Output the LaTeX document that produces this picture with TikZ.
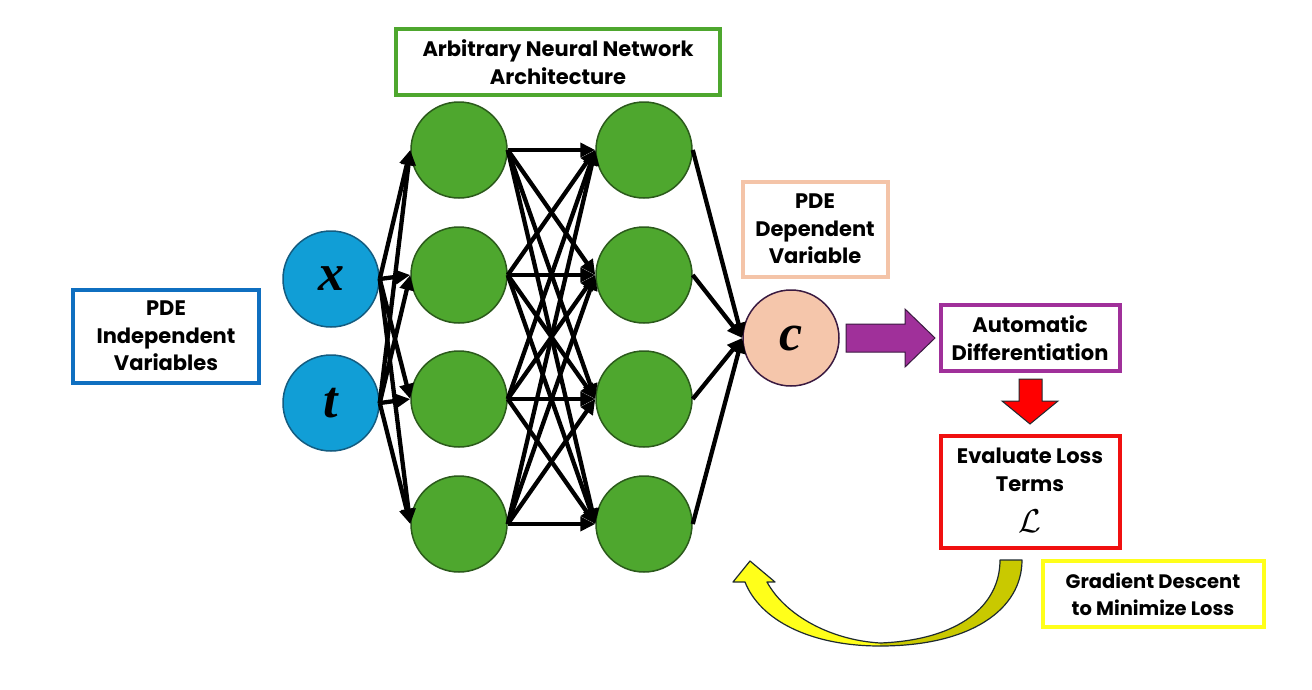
\documentclass[tikz,border=0pt]{standalone}
\usepackage{fontspec}
\setmainfont{Poppins}
\newfontfamily\varfont{Liberation Serif}
\usetikzlibrary{arrows.meta}
\definecolor{inblue}{HTML}{119ED6}
\definecolor{inblueD}{HTML}{145C80}
\definecolor{nngreen}{HTML}{4EA72E}
\definecolor{nngreenD}{HTML}{2B5A1B}
\definecolor{peach}{HTML}{F5C6AB}
\definecolor{peachD}{HTML}{3A1A40}
\definecolor{boxblue}{HTML}{0F6FC0}
\definecolor{boxpeach}{HTML}{F4C4A8}
\definecolor{boxpurple}{HTML}{A0309A}
\definecolor{boxred}{HTML}{F01010}
\definecolor{boxyellow}{HTML}{FFFF1A}
\definecolor{olive}{HTML}{C9C900}
\definecolor{darkedge}{HTML}{1E2A30}
\begin{document}
\begin{tikzpicture}[x=1pt,y=-1pt,
  txt/.style={font=\fontsize{21}{27.5}\selectfont\bfseries, align=center, text=black},
  lbox/.style={txt, draw, line width=4pt, fill=white, inner sep=0pt},
  neuron/.style={circle, minimum size=96pt, inner sep=0pt, line width=1.5pt},
  innode/.style={neuron, fill=inblue, draw=inblueD},
  hidnode/.style={neuron, fill=nngreen, draw=nngreenD},
  outnode/.style={neuron, fill=peach, draw=peachD},
  var/.style={font=\varfont\fontsize{52}{52}\selectfont\bfseries\itshape},
  conn/.style={line width=4.3pt, -{Triangle[length=15pt,width=14pt]}}
]
\useasboundingbox (0,0) rectangle (1312,689);
\fill[white] (0,0) rectangle (1312,689);

% boxes
\node[lbox, draw=nngreen, minimum width=324pt, minimum height=66pt] (title) at (558,62) {Arbitrary Neural Network\\Architecture};
\node[lbox, draw=boxblue, minimum width=186pt, minimum height=93pt] (indep) at (166,336) {PDE\\Independent\\Variables};
\node[lbox, draw=boxpeach, minimum width=145pt, minimum height=95pt] (dep) at (815,229) {PDE\\Dependent\\Variable};
\node[lbox, draw=boxpurple, minimum width=179pt, minimum height=66pt] (ad) at (1030,338) {Automatic\\Differentiation};
\node[lbox, draw=boxred, minimum width=179pt, minimum height=112pt] (loss) at (1030,492) {};
\node[txt] (losstxt) at (1030,470) {Evaluate Loss\\Terms};
\node[inner sep=0pt] (losssym) at (1030,521) {\scalebox{3.3}{$\mathcal{L}$}};
\node[lbox, draw=boxyellow, minimum width=221pt, minimum height=66pt, font=\fontsize{19.5}{27}\selectfont\bfseries] (gd) at (1153,594) {Gradient Descent\\to Minimize Loss};

% neurons
\node[innode, var] (x) at (331,279) {x};
\node[innode, var] (t) at (331,403) {t};
\foreach \i/\y in {1/150,2/275,3/399,4/524}{
  \node[hidnode] (a\i) at (459,\y) {};
  \node[hidnode] (b\i) at (644,\y) {};
}
\node[outnode, var] (c) at (791,338) {c};

% connections
\foreach \s in {x,t}{
  \foreach \j in {1,...,4}{
    \draw[conn] (\s.east) -- (a\j.west);
  }
}
\foreach \i in {1,...,4}{
  \foreach \j in {1,...,4}{
    \draw[conn] (a\i.east) -- (b\j.west);
  }
}
\foreach \i in {1,...,4}{
  \draw[conn] (b\i.east) -- (c.west);
}

% block arrows
\draw[fill=boxpurple, draw=peachD, line width=1pt]
  (846,324) -- (905,324) -- (905,309) -- (935,338) -- (905,367) -- (905,352) -- (846,352) -- cycle;
\draw[fill=red, draw=darkedge, line width=1pt]
  (1019,379) -- (1042,379) -- (1042,401) -- (1058,401) -- (1030,424) -- (1002,401) -- (1019,401) -- cycle;

% curved arrow
\fill[olive] (880,646) .. controls (970,646) and (1022,610) .. (1022,560) -- (1000,560)
  .. controls (1000,605) and (960,640) .. (880,643) -- cycle;
\fill[boxyellow] (880,646) .. controls (810,646) and (760,620) .. (745,582) -- (733,582) -- (750,561) -- (775,582) -- (767,582)
  .. controls (785,615) and (830,640) .. (880,643) -- cycle;
\draw[darkedge, line width=1.2pt, line join=round]
  (880,646) .. controls (810,646) and (760,620) .. (745,582) -- (733,582) -- (750,561) -- (775,582) -- (767,582)
  .. controls (785,615) and (830,640) .. (880,643)
  .. controls (960,640) and (1000,605) .. (1000,560) -- (1022,560)
  .. controls (1022,610) and (970,646) .. (880,646);
\end{tikzpicture}
\end{document}
